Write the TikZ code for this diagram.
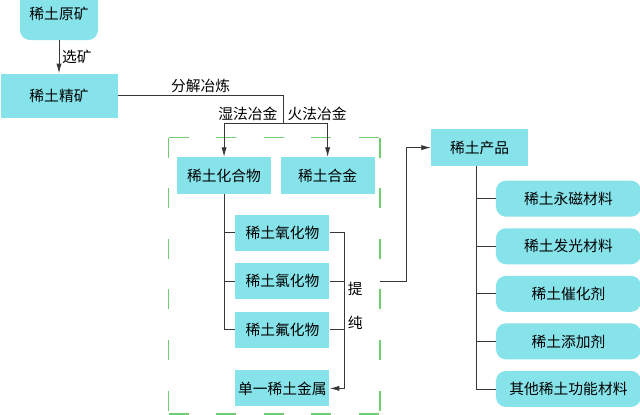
\documentclass[tikz,border=0pt]{standalone}
\usepackage{fontspec}
\setmainfont{Noto Sans CJK SC}
\usepackage{tikz}
\usetikzlibrary{positioning}
\usetikzlibrary{calc}
\usetikzlibrary{arrows.meta}
\usetikzlibrary{fit}
\definecolor{boxcyan}{RGB}{134,227,234}
\definecolor{framegreen}{RGB}{112,206,112}
\definecolor{linegray}{RGB}{55,55,55}

\begin{document}
\begin{tikzpicture}[
        node distance=0.3cm,
        box/.style={fill=boxcyan, draw=none, inner sep=1pt,
                    minimum width=2.35cm, minimum height=0.9cm,
                    align=center, font=\fontsize{10.5pt}{12pt}\selectfont},
        roundbox/.style={box, rounded corners=0.25cm},
        lbl/.style={font=\fontsize{10.5pt}{12pt}\selectfont, inner sep=2pt},
        link/.style={draw=linegray, line width=0.6pt},
        arrow/.style={-{Latex[length=2.4mm, width=1.3mm]}, link},
        frame/.style={draw=framegreen, line width=1pt}
    ]
        \useasboundingbox (0,0) rectangle (16,-10.35);

        \node[roundbox, minimum width=1.95cm, minimum height=1.3cm] at (1.475,-0.35) (raw) {稀土原矿};
        \node[box, minimum width=2.925cm, minimum height=1.1cm, below=0.825cm of raw] (conc) {稀土精矿};
        \node[box, minimum height=0.925cm, below right=0.975cm and 1.475cm of conc] (compound) {稀土化合物};
        \node[box, minimum height=0.925cm, right=0.225cm of compound] (alloy) {稀土合金};
        \node[box, below=0.5cm of compound, xshift=1.46cm] (oxide) {稀土氧化物};
        \node[box, below=of oxide] (chloride) {稀土氯化物};
        \node[box, below=of chloride] (fluoride) {稀土氟化物};
        \node[box, below=0.55cm of fluoride] (metal) {单一稀土金属};
        \node[box, minimum width=2.425cm, minimum height=0.925cm, right=1.4cm of alloy, yshift=0.7cm] (product) {稀土产品};
        \node[roundbox, minimum width=3.625cm, below right=0.35cm and 0.4cm of product.south] (magnet) {稀土永磁材料};
        \node[roundbox, minimum width=3.625cm, below=0.275cm of magnet] (lumin) {稀土发光材料};
        \node[roundbox, minimum width=3.625cm, below=0.275cm of lumin] (catal) {稀土催化剂};
        \node[roundbox, minimum width=3.625cm, below=0.275cm of catal] (additive) {稀土添加剂};
        \node[roundbox, minimum width=3.625cm, below=0.275cm of additive] (other) {其他稀土功能材料};

        % dashed group round compounds and alloys, each side starts and ends on a dash
        \coordinate (groupnw) at ($(compound.north west)+(-0.2,0.475)$);
        \coordinate (groupse) at ($(alloy.east |- metal.south)+(0.125,-0.175)$);
        \node[inner sep=0pt, fit=(groupnw)(groupse)] (group) {};
        \draw[frame, dash pattern=on 0.5cm off 0.6875cm] (group.north west) -- (group.north east);
        \draw[frame, dash pattern=on 0.5cm off 0.6875cm] (group.south west) -- (group.south east);
        \draw[frame, dash pattern=on 0.5cm off 0.765cm] (group.north west) -- (group.south west);
        \draw[frame, dash pattern=on 0.5cm off 0.765cm] (group.north east) -- (group.south east);

        \coordinate (fork) at ($(compound.north east)!0.5!(alloy.north west)+(0.19,0.825)$);
        \coordinate (purify) at ($(oxide.east)+(0.375,0)$);

        \draw[arrow] (raw) -- node[lbl, right] {选矿} (conc);
        \draw[link] (conc.east) -- node[lbl, above] {分解冶炼} (conc.east -| fork) -- (fork);
        \draw[arrow] (fork) -| node[lbl, pos=0.3, above] {湿法冶金} (compound.north);
        \draw[arrow] (fork) -| node[lbl, pos=0.38, above] {火法冶金} (alloy.north);

        \foreach \n in {oxide, chloride, fluoride} {
            \draw[link] (compound.south) |- (\n.west);
            \draw[link] (\n.east) -- (\n.east -| purify);
        }
        \draw[arrow] (purify) |- node[lbl, pos=0.18, right] {提} node[lbl, pos=0.29, right] {纯} (metal.east);

        \draw[arrow] (group.east |- chloride) -- ++(0.65,0) |- (product.west);
        \foreach \n in {magnet, lumin, catal, additive, other}
            \draw[link] ([xshift=-0.09cm]product.south) |- (\n.west);
    \end{tikzpicture}
\end{document}
